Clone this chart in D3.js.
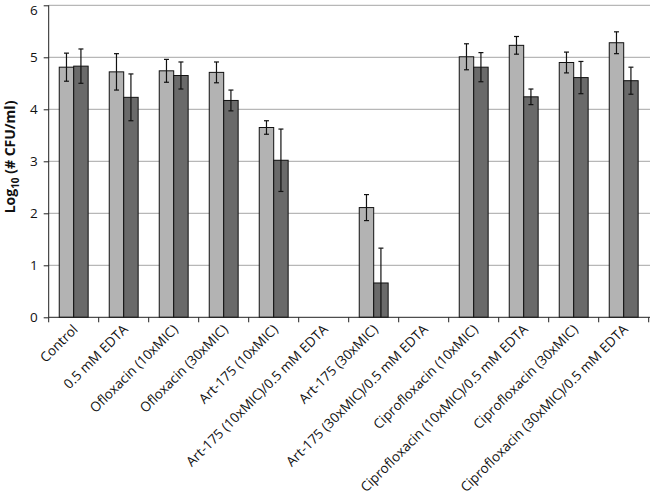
<!DOCTYPE html>
<html><head><meta charset="utf-8">
<script src="https://cdn.jsdelivr.net/npm/d3@7"></script>
<style>body{margin:0;background:#fff;} svg{display:block;font-family:"Open Sans",sans-serif;}</style>
</head><body>
<svg id="c" width="650" height="499"></svg>
<script>
const categories = ["Control","0.5 mM EDTA","Ofloxacin (10xMIC)","Ofloxacin (30xMIC)","Art-175 (10xMIC)","Art-175 (10xMIC)/0.5 mM EDTA","Art-175 (30xMIC)","Art-175 (30xMIC)/0.5 mM EDTA","Ciprofloxacin (10xMIC)","Ciprofloxacin (10xMIC)/0.5 mM EDTA","Ciprofloxacin (30xMIC)","Ciprofloxacin (30xMIC)/0.5 mM EDTA"];
const seriesA = [4.81,4.72,4.74,4.71,3.65,0,2.11,0,5.01,5.23,4.90,5.28];
const errA    = [0.27,0.35,0.22,0.20,0.13,0,0.25,0,0.25,0.17,0.20,0.21];
const seriesB = [4.83,4.23,4.65,4.17,3.02,0,0.66,0,4.81,4.24,4.61,4.55];
const errB    = [0.33,0.45,0.26,0.20,0.60,0,0.67,0,0.28,0.15,0.31,0.26];
const yTicks = [0,1,2,3,4,5,6];

const svg = d3.select("#c");
const L = 48.7, R = 648.7, T = 5.3, B = 317.3;
const x = d3.scaleBand().domain(categories).range([L,R]).paddingInner(0).paddingOuter(0);
const y = d3.scaleLinear().domain([0,6]).range([B,T]);
const series = [{v:seriesA,e:errA,fill:"#b3b3b3"},{v:seriesB,e:errB,fill:"#6a6a6a"}];
const x1 = d3.scaleBand().domain([0,1]).range([0,x.bandwidth()]).paddingOuter(0.73).paddingInner(0);

// gridlines
svg.append("g").selectAll("line").data(yTicks.filter(d=>d>0)).join("line")
  .attr("x1",L).attr("x2",650).attr("y1",d=>y(d)).attr("y2",d=>y(d))
  .attr("stroke","#a6a6a6").attr("stroke-width",1);

// bars
series.forEach((s,si)=>{
  const g = svg.append("g");
  g.selectAll("rect").data(categories.map((c,i)=>({c,v:s.v[i],e:s.e[i]})).filter(d=>d.v>0)).join("rect")
    .attr("x",d=>x(d.c)+x1(si)).attr("width",x1.bandwidth())
    .attr("y",d=>y(d.v)).attr("height",d=>y(0)-y(d.v))
    .attr("fill",s.fill).attr("stroke","#111").attr("stroke-width",1);
});
// error bars
series.forEach((s,si)=>{
  const g = svg.append("g").attr("stroke","#111").attr("stroke-width",1.2);
  const data = categories.map((c,i)=>({c,v:s.v[i],e:s.e[i]})).filter(d=>d.v>0);
  data.forEach(d=>{
    const cx = x(d.c)+x1(si)+x1.bandwidth()/2;
    const lo = Math.max(0,d.v-d.e), hi = d.v+d.e;
    g.append("line").attr("x1",cx).attr("x2",cx).attr("y1",y(hi)).attr("y2",y(lo));
    g.append("line").attr("x1",cx-2.5).attr("x2",cx+2.5).attr("y1",y(hi)).attr("y2",y(hi));
    if (lo>0) g.append("line").attr("x1",cx-2.5).attr("x2",cx+2.5).attr("y1",y(lo)).attr("y2",y(lo));
  });
});

// y axis
const ya = svg.append("g").attr("transform",`translate(${L},0)`)
  .call(d3.axisLeft(y).tickValues(yTicks).tickSize(5).tickPadding(6).tickFormat(d3.format("d")));
ya.select(".domain").attr("stroke","#222").attr("d",`M-0,${B}V${T}`);
ya.selectAll(".tick line").attr("stroke","#222");
ya.selectAll("text").attr("font-size",13.5).attr("fill","#111").attr("font-family","Open Sans");
ya.selectAll(".tick").filter(d=>d===6).select("text").attr("dy","0.7em");

// x axis
const xa = svg.append("g").attr("transform",`translate(0,${B})`);
xa.append("line").attr("x1",L).attr("x2",650).attr("stroke","#222");
xa.selectAll("line.t").data(d3.range(categories.length+1)).join("line").attr("class","t")
  .attr("x1",i=>L+i*x.step()).attr("x2",i=>L+i*x.step()).attr("y1",0).attr("y2",5).attr("stroke","#222");
xa.selectAll("text").data(categories).join("text")
  .attr("transform",d=>`translate(${x(d)+x.bandwidth()/2+5},${13}) rotate(-45)`)
  .attr("text-anchor","end").attr("font-size",13.5).attr("fill","#111").text(d=>d);

// y label
const yl = svg.append("text").attr("transform","translate(15,157) rotate(-90)")
  .attr("text-anchor","middle").attr("font-size",14).attr("font-weight","bold").attr("fill","#111");
yl.append("tspan").text("Log");
yl.append("tspan").attr("font-size",10).attr("dy",4).text("10");
yl.append("tspan").attr("dy",-4).text(" (# CFU/ml)");
</script>
</body></html>
